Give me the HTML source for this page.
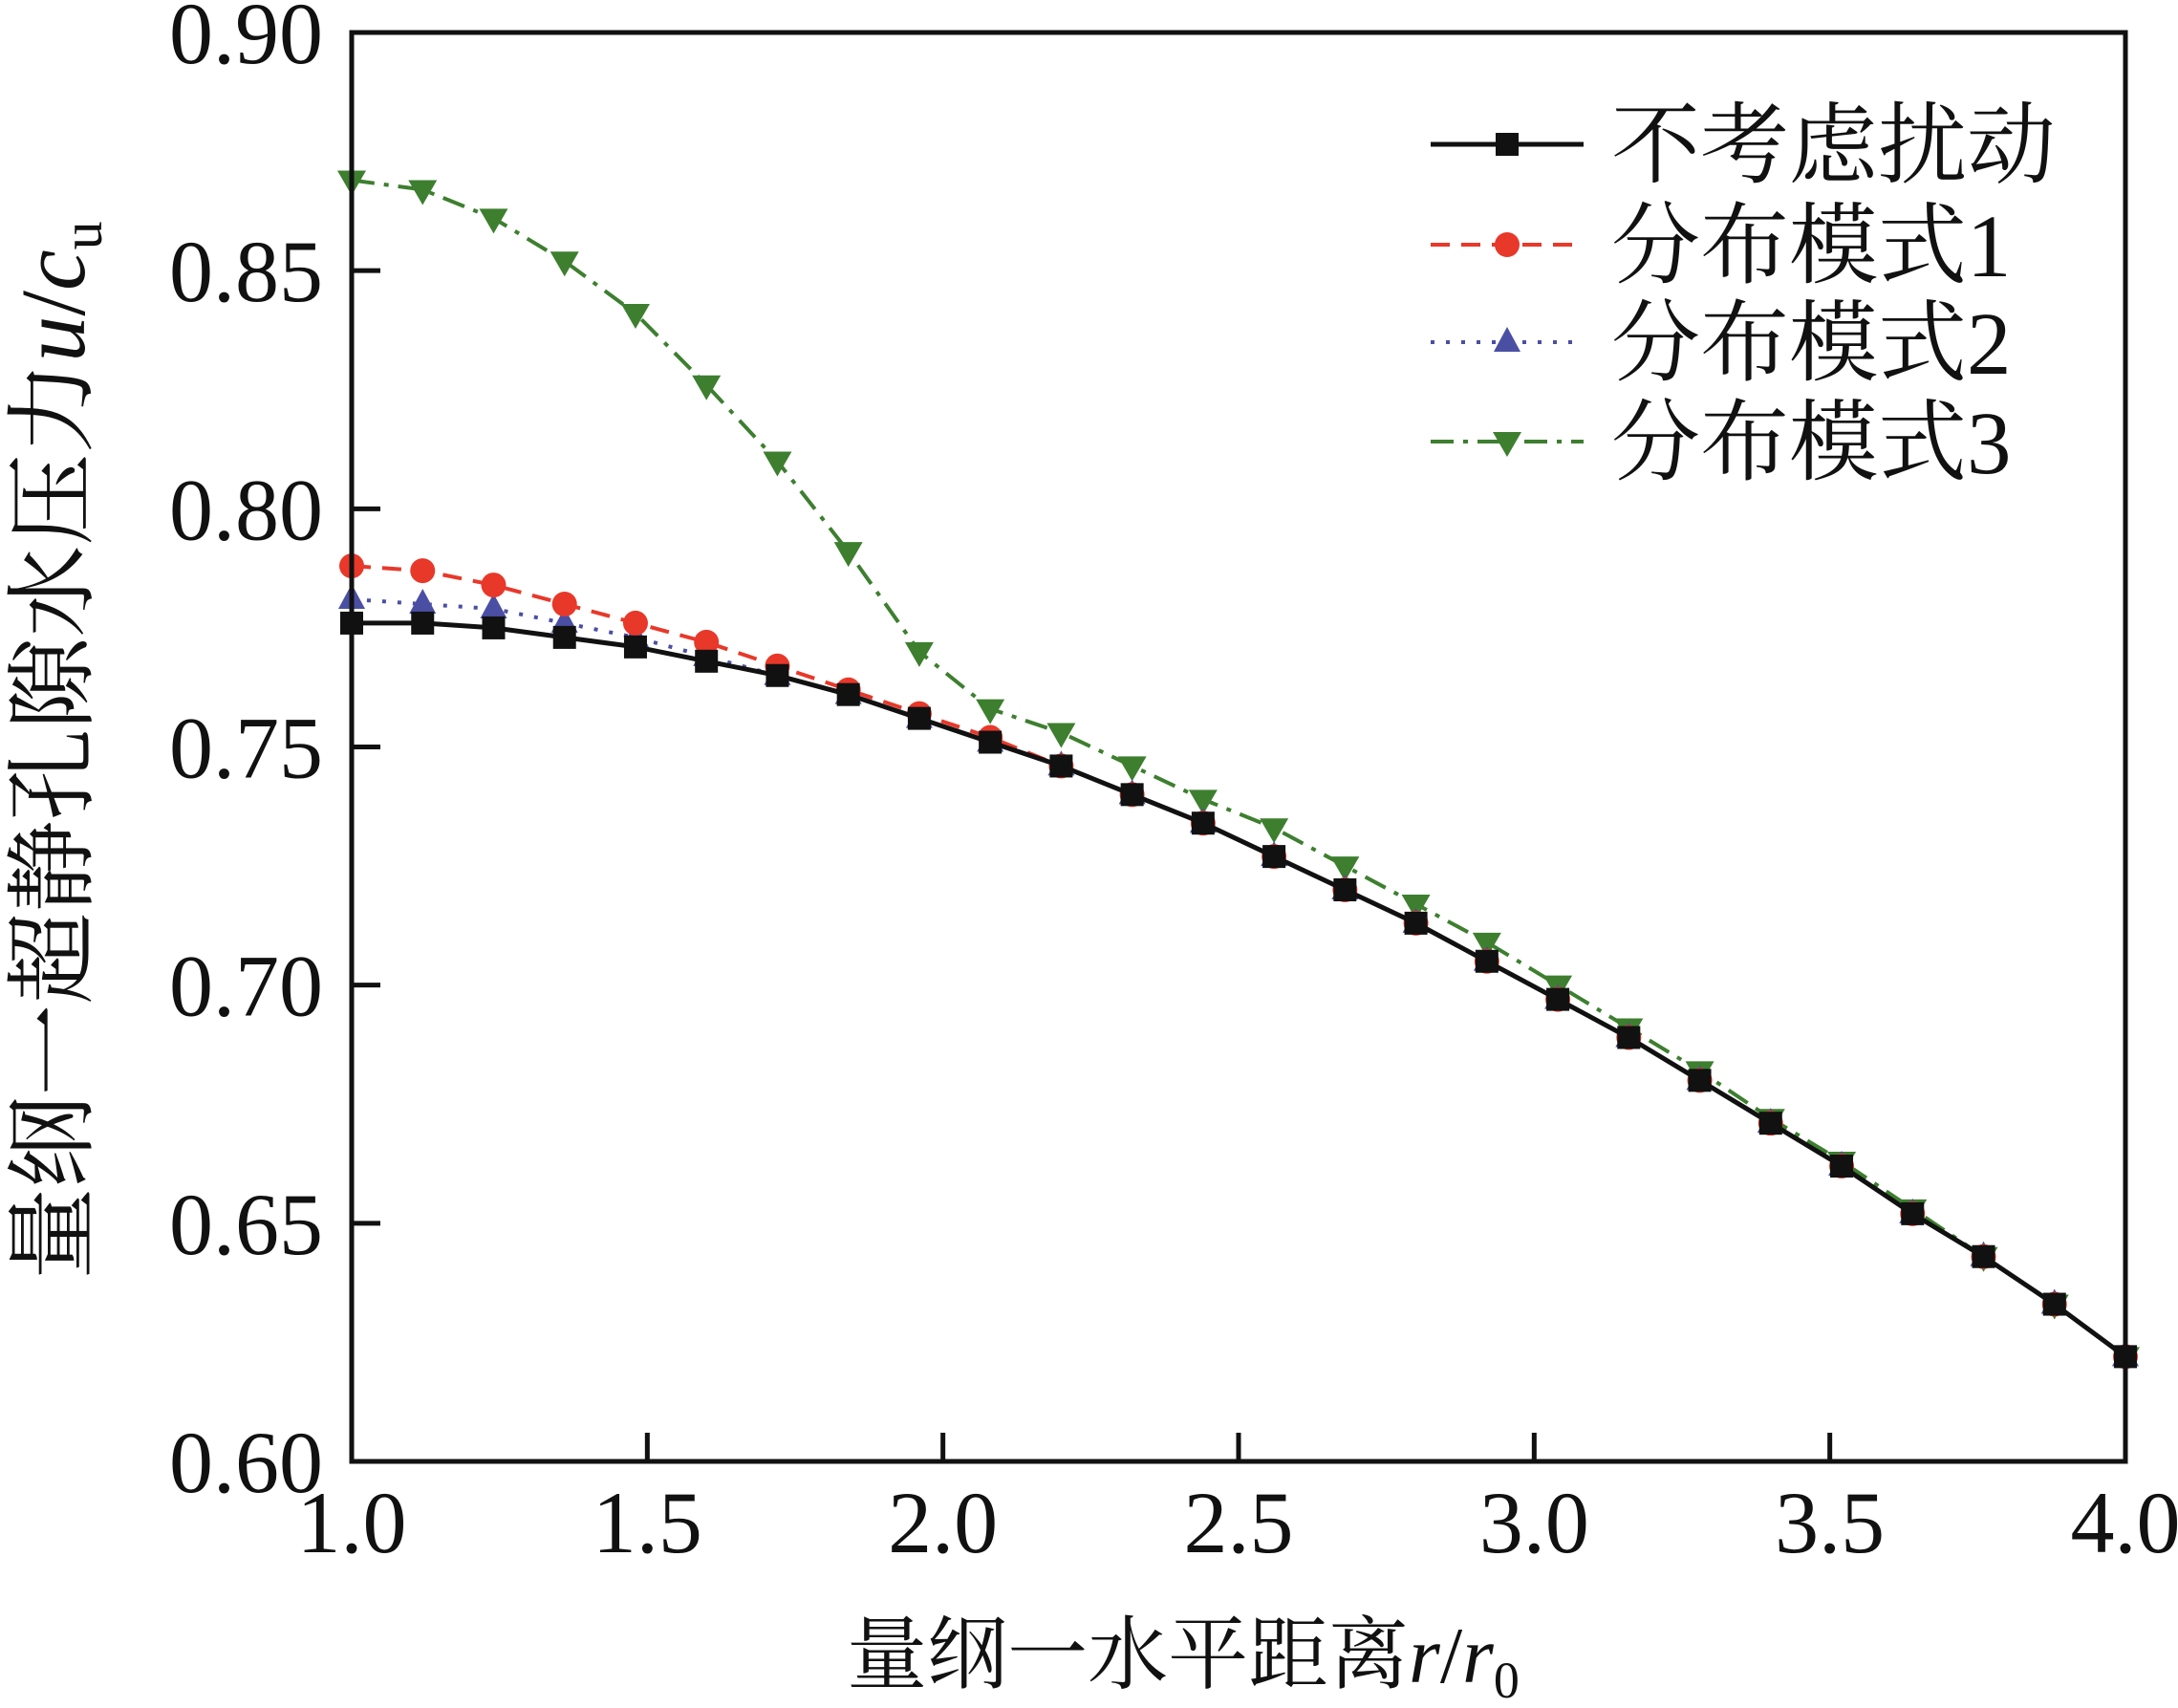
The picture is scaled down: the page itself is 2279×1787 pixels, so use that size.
<!DOCTYPE html>
<html><head><meta charset="utf-8"><style>
html,body{margin:0;padding:0;background:#fff}
svg{display:block}
text{font-family:"Liberation Serif","Noto Serif CJK SC","Noto Sans CJK SC",serif;fill:#111}
</style></head><body>
<svg id="chart" width="2279" height="1787" viewBox="0 0 2279 1787" xmlns="http://www.w3.org/2000/svg" style="position:absolute;left:0;top:0">
<g id="plot"></g>
<text transform="translate(88,785) rotate(-90)" font-size="96" text-anchor="middle">量纲一超静孔隙水压力<tspan font-style="italic">u</tspan>/<tspan font-style="italic">c</tspan><tspan font-size="60" dy="18">u</tspan></text>
<text x="1238" y="1760" font-size="84" text-anchor="middle">量纲一水平距离<tspan font-style="italic">r</tspan>/<tspan font-style="italic">r</tspan><tspan font-size="54" dy="16">0</tspan></text>
</svg>
<script>
const xs = [1.00,1.12,1.24,1.36,1.48,1.60,1.72,1.84,1.96,2.08,2.20,2.32,2.44,2.56,2.68,2.80,2.92,3.04,3.16,3.28,3.40,3.52,3.64,3.76,3.88,4.00];
const base = [0.776,0.776,0.775,0.773,0.771,0.768,0.765,0.761,0.756,0.751,0.746,0.740,0.734,0.727,0.720,0.713,0.705,0.697,0.689,0.680,0.671,0.662,0.652,0.643,0.633,0.622];
const mode1 = [0.788,0.787,0.784,0.780,0.776,0.772,0.767,0.762,0.757,0.752,0.746,0.740,0.734,0.727,0.720,0.713,0.705,0.697,0.689,0.680,0.671,0.662,0.652,0.643,0.633,0.622];
const mode2 = [0.781,0.780,0.779,0.776,0.773,0.769,0.765,0.761,0.756,0.751,0.746,0.740,0.734,0.727,0.720,0.713,0.705,0.697,0.689,0.680,0.671,0.662,0.652,0.643,0.633,0.622];
const mode3 = [0.869,0.867,0.861,0.852,0.841,0.826,0.810,0.791,0.770,0.758,0.753,0.746,0.739,0.733,0.725,0.717,0.709,0.700,0.691,0.682,0.672,0.663,0.653,0.643,0.633,0.622];
const xTicks = ["1.0","1.5","2.0","2.5","3.0","3.5","4.0"];
const yTicks = ["0.60","0.65","0.70","0.75","0.80","0.85","0.90"];
const legendLabels = ["不考虑扰动","分布模式1","分布模式2","分布模式3"];

const L=368,R=2224,T=34,B=1529;
const X=v=>L+(v-1)/3*(R-L);
const Y=v=>B-(v-0.6)/0.3*(B-T);
const NS="http://www.w3.org/2000/svg";
const svg=document.getElementById('chart');
const plot=document.getElementById('plot');
function mk(tag,attrs,parent){const e=document.createElementNS(NS,tag);for(const k in attrs)e.setAttribute(k,attrs[k]);(parent||svg).appendChild(e);return e;}

const series=[
 {d:base,color:'#111',dash:'',marker:'square',w:5,name:'series-no-disturbance'},
 {d:mode1,color:'#e8382a',dash:'20 12',marker:'circle',w:4,name:'series-mode-1'},
 {d:mode2,color:'#4b4fa3',dash:'4 12',marker:'tri-up',w:4,name:'series-mode-2'},
 {d:mode3,color:'#3d7f2f',dash:'24 10 5 10',marker:'tri-down',w:4,name:'series-mode-3'}
];
function marker(type,cx,cy,color,parent){
  let e;
  if(type==='square'){e=mk('rect',{x:cx-12,y:cy-12,width:24,height:24,fill:color},parent);}
  else if(type==='circle'){e=mk('circle',{cx:cx,cy:cy,r:13,fill:color},parent);}
  else if(type==='tri-up'){e=mk('polygon',{points:`${cx},${cy-16} ${cx-14},${cy+10} ${cx+14},${cy+10}`,fill:color},parent);}
  else {e=mk('polygon',{points:`${cx},${cy+16} ${cx-15},${cy-10} ${cx+15},${cy-10}`,fill:color},parent);}
  return e;
}
for(let si=series.length-1;si>=0;si--){
  const s=series[si];
  const g=mk('g',{},plot);
  
  
  const pts=xs.map((x,i)=>`${X(x).toFixed(1)},${Y(s.d[i]).toFixed(1)}`).join(' ');
  const pl=mk('polyline',{points:pts,fill:'none',stroke:s.color,'stroke-width':s.w,'stroke-dasharray':s.dash},g);
  
  
  xs.forEach((x,i)=>{
    const m=marker(s.marker,X(x),Y(s.d[i]),s.color,g);
    
    
  });
}
const fr=mk('rect',{x:L,y:T,width:R-L,height:B-T,fill:'none',stroke:'#111','stroke-width':5});


xTicks.forEach(t=>{
  const x=X(parseFloat(t));
  const tk=mk('line',{x1:x,y1:B,x2:x,y2:B-30,stroke:'#111','stroke-width':5});
  
  
  const tx=mk('text',{x:x,y:1624,'font-size':92,'text-anchor':'middle'});
  tx.textContent=t;
  
  
});
yTicks.forEach(t=>{
  const y=Y(parseFloat(t));
  const tk=mk('line',{x1:L,y1:y,x2:L+30,y2:y,stroke:'#111','stroke-width':5});
  
  
  const tx=mk('text',{x:338,y:y+32,'font-size':92,'text-anchor':'end'});
  tx.textContent=t;
  
  
});
const legY=[151,256,358,462];
legendLabels.forEach((lab,i)=>{
  const s=series[i];
  const g=mk('g',{});
  
  
  mk('line',{x1:1497,y1:legY[i],x2:1657,y2:legY[i],stroke:s.color,'stroke-width':s.w,'stroke-dasharray':s.dash},g);
  marker(s.marker,1577,legY[i],s.color,g);
  const tx=mk('text',{x:1686,y:legY[i]+33,'font-size':93},g);
  tx.textContent=lab;
});
</script>
</body></html>
